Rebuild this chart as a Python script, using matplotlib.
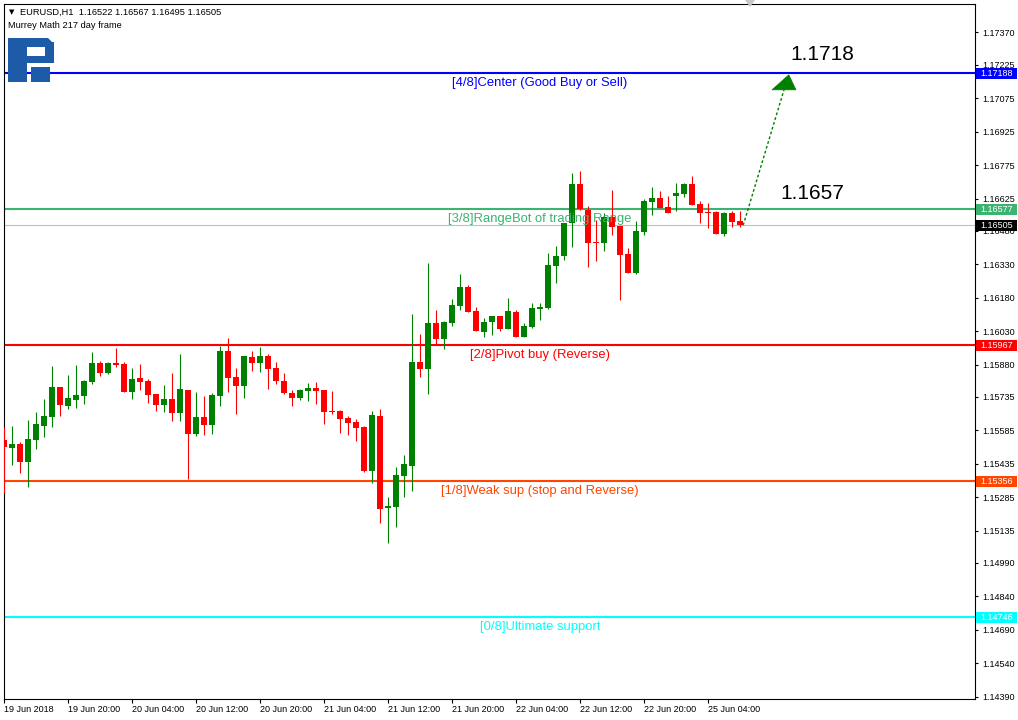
import matplotlib.pyplot as plt
from matplotlib.patches import Rectangle, Polygon

plt.rcParams['font.family'] = ['Liberation Sans', 'DejaVu Sans']

# EURUSD H1 candles, starting 19 Jun 2018 12:00
opens = [1.15541, 1.15505, 1.15523, 1.15442, 1.15541, 1.15604, 1.15644, 1.15779, 1.15694, 1.15721,
         1.15739, 1.15801, 1.15887, 1.15842, 1.15887, 1.15882, 1.15757, 1.15819, 1.15806, 1.15748,
         1.15698, 1.15725, 1.15662, 1.15766, 1.15568, 1.15644, 1.15608, 1.15739, 1.15941, 1.15824,
         1.15783, 1.15914, 1.15887, 1.15918, 1.15864, 1.15806, 1.15752, 1.15730, 1.15761, 1.15775,
         1.15766, 1.15671, 1.15671, 1.15640, 1.15622, 1.15599, 1.15402, 1.15649, 1.15236, 1.15240,
         1.15380, 1.15424, 1.15891, 1.15860, 1.16066, 1.15994, 1.16066, 1.16143, 1.16228, 1.16120,
         1.16026, 1.16071, 1.16098, 1.16039, 1.16116, 1.16003, 1.16048, 1.16129, 1.16134, 1.16322,
         1.16367, 1.16515, 1.16690, 1.16573, 1.16430, 1.16425, 1.16542, 1.16502, 1.16376, 1.16291,
         1.16475, 1.16609, 1.16627, 1.16587, 1.16636, 1.16645, 1.16690, 1.16600, 1.16564, 1.16564,
         1.16466, 1.16560, 1.16522]
highs = [1.15599, 1.15604, 1.15532, 1.15631, 1.15667, 1.15725, 1.15873, 1.15779, 1.15833, 1.15878,
         1.15810, 1.15936, 1.15896, 1.15891, 1.15954, 1.15891, 1.15864, 1.15882, 1.15815, 1.15748,
         1.15788, 1.15842, 1.15927, 1.15766, 1.15757, 1.15739, 1.15752, 1.15963, 1.15999, 1.15864,
         1.15918, 1.15941, 1.15959, 1.15927, 1.15891, 1.15842, 1.15766, 1.15770, 1.15797, 1.15801,
         1.15766, 1.15761, 1.15676, 1.15649, 1.15635, 1.15604, 1.15671, 1.15680, 1.15285, 1.15420,
         1.15474, 1.16107, 1.16017, 1.16336, 1.16125, 1.16075, 1.16174, 1.16286, 1.16237, 1.16138,
         1.16089, 1.16098, 1.16098, 1.16178, 1.16125, 1.16066, 1.16156, 1.16156, 1.16380, 1.16412,
         1.16488, 1.16739, 1.16748, 1.16591, 1.16529, 1.16560, 1.16663, 1.16502, 1.16403, 1.16524,
         1.16623, 1.16677, 1.16659, 1.16636, 1.16695, 1.16695, 1.16726, 1.16614, 1.16605, 1.16569,
         1.16564, 1.16569, 1.16567]
lows = [1.15303, 1.15429, 1.15393, 1.15330, 1.15501, 1.15555, 1.15599, 1.15649, 1.15680, 1.15685,
        1.15703, 1.15792, 1.15828, 1.15837, 1.15869, 1.15757, 1.15725, 1.15766, 1.15707, 1.15671,
        1.15667, 1.15626, 1.15626, 1.15366, 1.15559, 1.15564, 1.15568, 1.15694, 1.15757, 1.15658,
        1.15730, 1.15851, 1.15846, 1.15770, 1.15792, 1.15748, 1.15694, 1.15721, 1.15716, 1.15703,
        1.15613, 1.15658, 1.15573, 1.15564, 1.15537, 1.15398, 1.15348, 1.15169, 1.15079, 1.15151,
        1.15285, 1.15312, 1.15824, 1.15748, 1.15972, 1.15950, 1.16053, 1.16125, 1.16116, 1.16030,
        1.16003, 1.16012, 1.16030, 1.16039, 1.16003, 1.16003, 1.16044, 1.16080, 1.16129, 1.16246,
        1.16349, 1.16407, 1.16573, 1.16318, 1.16344, 1.16389, 1.16461, 1.16169, 1.16291, 1.16286,
        1.16461, 1.16551, 1.16582, 1.16560, 1.16569, 1.16632, 1.16596, 1.16515, 1.16493, 1.16466,
        1.16457, 1.16497, 1.16495]
closes = [1.15510, 1.15523, 1.15442, 1.15546, 1.15613, 1.15649, 1.15779, 1.15698, 1.15730, 1.15743,
          1.15806, 1.15887, 1.15842, 1.15887, 1.15878, 1.15757, 1.15815, 1.15801, 1.15743, 1.15698,
          1.15725, 1.15662, 1.15770, 1.15568, 1.15644, 1.15608, 1.15743, 1.15941, 1.15819, 1.15783,
          1.15918, 1.15887, 1.15918, 1.15860, 1.15806, 1.15752, 1.15730, 1.15766, 1.15775, 1.15761,
          1.15667, 1.15667, 1.15635, 1.15617, 1.15595, 1.15402, 1.15653, 1.15231, 1.15245, 1.15384,
          1.15433, 1.15891, 1.15860, 1.16066, 1.15994, 1.16071, 1.16147, 1.16228, 1.16116, 1.16030,
          1.16071, 1.16098, 1.16039, 1.16120, 1.16003, 1.16053, 1.16134, 1.16138, 1.16327, 1.16367,
          1.16515, 1.16690, 1.16578, 1.16425, 1.16425, 1.16542, 1.16497, 1.16371, 1.16291, 1.16479,
          1.16614, 1.16627, 1.16582, 1.16560, 1.16650, 1.16690, 1.16596, 1.16560, 1.16560, 1.16466,
          1.16560, 1.16520, 1.16505]

date_ticks = [0, 8, 16, 24, 32, 40, 48, 56, 64, 72, 80, 88]
date_labels = ["19 Jun 2018", "19 Jun 20:00", "20 Jun 04:00", "20 Jun 12:00", "20 Jun 20:00",
               "21 Jun 04:00", "21 Jun 12:00", "21 Jun 20:00", "22 Jun 04:00", "22 Jun 12:00",
               "22 Jun 20:00", "25 Jun 04:00"]

price_ticks = [1.17370, 1.17225, 1.17075, 1.16925, 1.16775, 1.16625, 1.16480, 1.16330, 1.16180,
               1.16030, 1.15880, 1.15735, 1.15585, 1.15435, 1.15285, 1.15135, 1.14990, 1.14840,
               1.14690, 1.14540, 1.14390]

level_prices = [1.17188, 1.16577, 1.15967, 1.15356, 1.14746]
level_names = ["[4/8]Center (Good Buy or Sell)", "[3/8]RangeBot of trading Range",
               "[2/8]Pivot buy (Reverse)", "[1/8]Weak sup (stop and Reverse)", "[0/8]Ultimate support"]
level_colors = ["#0000FF", "#3CB371", "#FF0000", "#FF4500", "#00FFFF"]

current_price = 1.16505
target_price = 1.1718
target_text = "1.1718"
level_text = "1.1657"

W, H = 1018, 720
fig = plt.figure(figsize=(W / 100, H / 100), dpi=100)
ax = fig.add_axes([4 / W, 1 - 699 / H, 971 / W, 695 / H])
ax.set_xlim(0, 121.375)
ax.set_ylim(1.143788, 1.174979)
px_y = (1.174979 - 1.143788) / 695  # price per pixel

# current price line
ax.axhline(current_price, color="#C0C0C0", lw=0.8, zorder=1)

# candles
for i in range(len(opens)):
    o, h, l, c = opens[i], highs[i], lows[i], closes[i]
    col = "#008000" if c > o else "#FF0000"
    ax.vlines(i, l, h, color=col, lw=0.8, zorder=3)
    body = max(abs(c - o), px_y)
    ax.add_patch(Rectangle((i - 0.32, min(o, c)), 0.64, body, facecolor=col,
                           edgecolor="none", zorder=3))

# murrey math levels
for p, name, col in zip(level_prices, level_names, level_colors):
    ax.axhline(p, color=col, lw=1.5, zorder=2)
    ax.annotate(name, (67, p), xytext=(0, -2.5), textcoords="offset points",
                ha="center", va="top", color=col, fontsize=9.4, zorder=4)

# price tags on the axis
trans = ax.get_yaxis_transform()
tags = list(zip(level_prices, level_colors)) + [(current_price, "#000000")]
for p, col in tags:
    ax.add_patch(Rectangle((1.001, p - 5.5 * px_y), 0.0425, 11 * px_y, transform=trans,
                           facecolor=col, edgecolor="none", clip_on=False, zorder=5))
    ax.text(1.0222, p, f"{p:.5f}", transform=trans, ha="center", va="center",
            color="white", fontsize=6.5, clip_on=False, zorder=6)

# forecast arrow
start_x, tip_x = 92.4, 98.1
base_y = target_price - 15 * px_y
ax.plot([start_x, 97.5], [current_price, base_y], color="#008000", lw=1,
        linestyle=(0, (2, 1.6)), zorder=4)
ax.add_patch(Polygon([[tip_x - 2.1, base_y], [tip_x + 0.9, base_y], [tip_x, target_price]],
                     closed=True, facecolor="#008000", edgecolor="#008000", lw=0.5, zorder=4))

ax.annotate(target_text, (98.25, level_prices[0]), xytext=(0, 13.5), textcoords="offset points",
            ha="left", va="center", fontsize=15, color="black")
ax.annotate(level_text, (97.0, level_prices[1]), xytext=(0, 11.5), textcoords="offset points",
            ha="left", va="center", fontsize=15, color="black")

# axes styling
ax.yaxis.tick_right()
ax.set_yticks(price_ticks)
ax.set_yticklabels([f"{p:.5f}" for p in price_ticks])
ax.tick_params(axis="y", direction="out", length=2.5, width=0.8, labelsize=6.5, pad=3)
ax.set_xticks(date_ticks)
ax.set_xticklabels(date_labels)
for lbl in ax.get_xticklabels():
    lbl.set_horizontalalignment("left")
ax.tick_params(axis="x", direction="out", length=3, width=0.8, labelsize=6.5, pad=1)
for s in ax.spines.values():
    s.set_color("black")
    s.set_linewidth(0.8)

# header
fig.text(9 / W, 1 - 12.5 / H, "\u25BC", fontsize=5, family="DejaVu Sans", va="center")
fig.text(20 / W, 1 - 12.5 / H, "EURUSD,H1  1.16522 1.16567 1.16495 1.16505", fontsize=6.7, va="center")
fig.text(8 / W, 1 - 25 / H, "Murrey Math 217 day frame", fontsize=6.7, va="center")

# shift marker at top
fig.patches.append(Polygon([[745 / W, 1], [755 / W, 1], [750 / W, 1 - 7 / H]], closed=True,
                           transform=fig.transFigure, facecolor="#C8C8C8", edgecolor="none"))

# logo (simplified blocky R)
logo_col = "#1D5AA8"
def px_rect(x0, y0, x1, y1):
    return Rectangle((x0 / W, 1 - y1 / H), (x1 - x0) / W, (y1 - y0) / H,
                     transform=fig.transFigure, facecolor=logo_col, edgecolor="none")
for r in [(8, 38, 27, 82), (8, 38, 48, 47), (45, 42, 54, 63), (27, 56, 54, 63), (31, 67, 50, 82)]:
    fig.patches.append(px_rect(*r))
fig.patches.append(Polygon([[48 / W, 1 - 38 / H], [54 / W, 1 - 44 / H], [45 / W, 1 - 44 / H]],
                           closed=True, transform=fig.transFigure, facecolor=logo_col, edgecolor="none"))

fig.savefig("out.png", dpi=100, facecolor="white")
